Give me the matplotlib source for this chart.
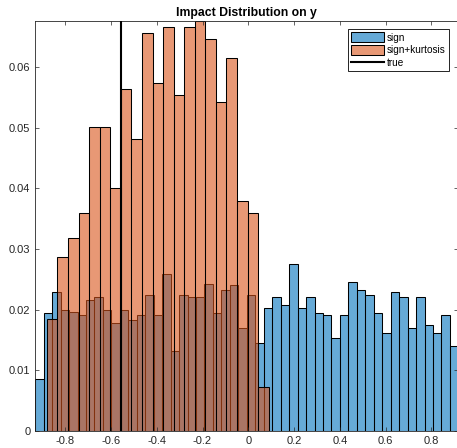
import numpy as np
import matplotlib
matplotlib.use("Agg")
import matplotlib.pyplot as plt
from matplotlib.patches import Patch
from matplotlib.lines import Line2D

plt.rcParams["font.family"] = ["Liberation Sans", "DejaVu Sans"]

# Histogram of impact estimates (probability per bin)
sign_range = (-0.9312, 0.9178)
sign_probs = [
    0.0085, 0.0195, 0.0229, 0.0199, 0.0196, 0.0191, 0.0216, 0.0221, 0.0200, 0.0178,
    0.0200, 0.0183, 0.0191, 0.0224, 0.0191, 0.0259, 0.0131, 0.0224, 0.0221, 0.0221,
    0.0242, 0.0195, 0.0232, 0.0241, 0.0169, 0.0224, 0.0145, 0.0203, 0.0220, 0.0207,
    0.0276, 0.0203, 0.0220, 0.0195, 0.0191, 0.0153, 0.0191, 0.0246, 0.0232, 0.0224,
    0.0195, 0.0161, 0.0229, 0.0220, 0.0169, 0.0220, 0.0174, 0.0161, 0.0191, 0.0140,
]

kurt_range = (-0.8803, 0.0891)
kurt_probs = [
    0.0184, 0.0287, 0.0318, 0.0359, 0.0502, 0.0502, 0.0400, 0.0564, 0.0482, 0.0656,
    0.0574, 0.0666, 0.0554, 0.0666, 0.0677, 0.0646, 0.0543, 0.0615, 0.0380, 0.0359,
    0.0072,
]

true_value = -0.558

x_ticks = [-0.8, -0.6, -0.4, -0.2, 0.0, 0.2, 0.4, 0.6, 0.8]
x_ticklabels = ["-0.8", "-0.6", "-0.4", "-0.2", "0", "0.2", "0.4", "0.6", "0.8"]
y_ticks = [0, 0.01, 0.02, 0.03, 0.04, 0.05, 0.06]
y_ticklabels = ["0", "0.01", "0.02", "0.03", "0.04", "0.05", "0.06"]

title = "Impact Distribution on y"
labels = ["sign", "sign+kurtosis", "true"]

BLUE = (0.0, 0.447, 0.741, 0.6)
ORANGE = (0.85, 0.325, 0.098, 0.6)
AXCOL = (0.15, 0.15, 0.15)

W, H = 457, 448
fig = plt.figure(figsize=(W / 100, H / 100), dpi=100)
ax = fig.add_axes([35.2 / W, (H - 430.7) / H, (458.4 - 35.2) / W, (430.7 - 20.7) / H])


def draw_hist(ax, rng, probs, color):
    edges = np.linspace(rng[0], rng[1], len(probs) + 1)
    ax.bar(edges[:-1], probs, width=np.diff(edges), align="edge",
           facecolor=color, edgecolor="black", linewidth=0.75)
    return edges


sign_edges = draw_hist(ax, sign_range, sign_probs, BLUE)
draw_hist(ax, kurt_range, kurt_probs, ORANGE)
ax.axvline(true_value, color="black", linewidth=1.5, zorder=3)

ax.set_xlim(sign_edges[0], sign_edges[-1])
ax.set_ylim(0, max(kurt_probs))

ax.set_xticks(x_ticks)
ax.set_xticklabels(x_ticklabels)
ax.set_yticks(y_ticks)
ax.set_yticklabels(y_ticklabels)
ax.tick_params(direction="in", length=3, width=0.5, top=True, right=True,
               colors=AXCOL, labelsize=8, pad=3.5)
for sp in ax.spines.values():
    sp.set_color(AXCOL)
    sp.set_linewidth(0.6)

ax.set_title(title, fontsize=8.8, fontweight="bold", pad=3.6)

handles = [
    Patch(facecolor=BLUE, edgecolor="black", linewidth=0.75),
    Patch(facecolor=ORANGE, edgecolor="black", linewidth=0.75),
    Line2D([], [], color="black", linewidth=1.5),
]
leg = ax.legend(handles, labels, loc="upper left",
                bbox_to_anchor=(347.7 / W, 1 - 29.3 / H),
                bbox_transform=fig.transFigure, borderaxespad=0,
                fontsize=7.2, handlelength=3.36, handleheight=1.1,
                handletextpad=0.27, labelspacing=0.25, borderpad=0.3,
                fancybox=False, framealpha=1, edgecolor="black")
leg.get_frame().set_linewidth(0.6)

fig.savefig("out.png", dpi=100)
